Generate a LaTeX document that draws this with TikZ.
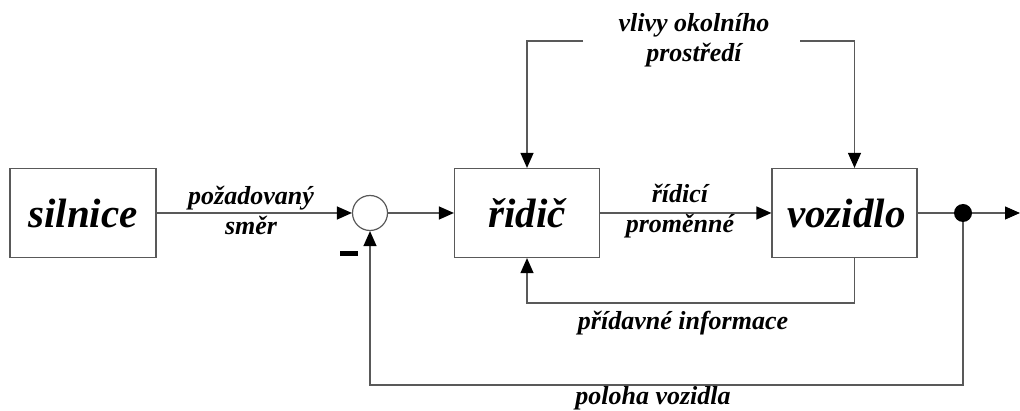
\documentclass[tikz,border=0pt]{standalone}
\usepackage{fontspec}
\setmainfont{Liberation Serif}
\usetikzlibrary{arrows.meta,positioning,calc}
\begin{document}
\begin{tikzpicture}[x=1pt,y=-1pt,
  ln/.style={draw=black!65, line width=1.2pt},
  arr/.style={ln, -{Triangle[length=15pt,width=13pt,black]}},
  blk/.style={ln, fill=white, minimum width=145pt, minimum height=89pt, inner sep=0pt,
    font=\fontsize{41}{46}\selectfont\bfseries\itshape},
  lbl/.style={align=center, inner sep=0pt, font=\fontsize{26}{30}\selectfont\bfseries\itshape}
]
\useasboundingbox (0,0) rectangle (1020,411);
\node[blk, minimum width=146pt] (sil) at (83,213) {silnice};
\node[ln, circle, minimum size=35pt, inner sep=0pt] (sum) at (370,213) {};
\node[blk] (rid) at (527,213) {řidič};
\node[blk] (voz) at (844.5,213) {\hspace{4pt}vozidlo};
\node[circle, fill=black, minimum size=18pt, inner sep=0pt] (dot) at (963,213) {};
\coordinate (out) at (1020,213);
\node[fill=black, minimum width=18pt, minimum height=5pt, inner sep=0pt] (minus) at (349,253.5) {};
\coordinate (tl) at (583,41);
\coordinate (tr) at (800,41);

\draw[arr] (sil.east) -- (sum.west);
\draw[arr] (sum.east) -- (rid.west);
\draw[arr] (rid.east) -- (voz.west);
\draw[ln] (voz.east) -- (dot);
\draw[arr] (dot) -- (out);
\draw[arr] (tl) -| (rid.north);
\draw[arr] (tr) -| ([xshift=10pt]voz.north);
\draw[arr] ([xshift=10pt]voz.south) -- ++(0,45) -| (rid.south);
\draw[arr] (dot) -- ++(0,172) -| (sum.south);

\node[lbl] (l1) at (251,210) {požadovaný\\směr};
\node[lbl] (l2) at (680,211) {řídicí\\proměnné};
\node[lbl] (l3) at (694,40) {vlivy okolního\\prostředí};
\node[lbl] (l4) at (683,323) {přídavné informace};
\node[lbl] (l5) at (653,398) {poloha vozidla};
\end{tikzpicture}
\end{document}
